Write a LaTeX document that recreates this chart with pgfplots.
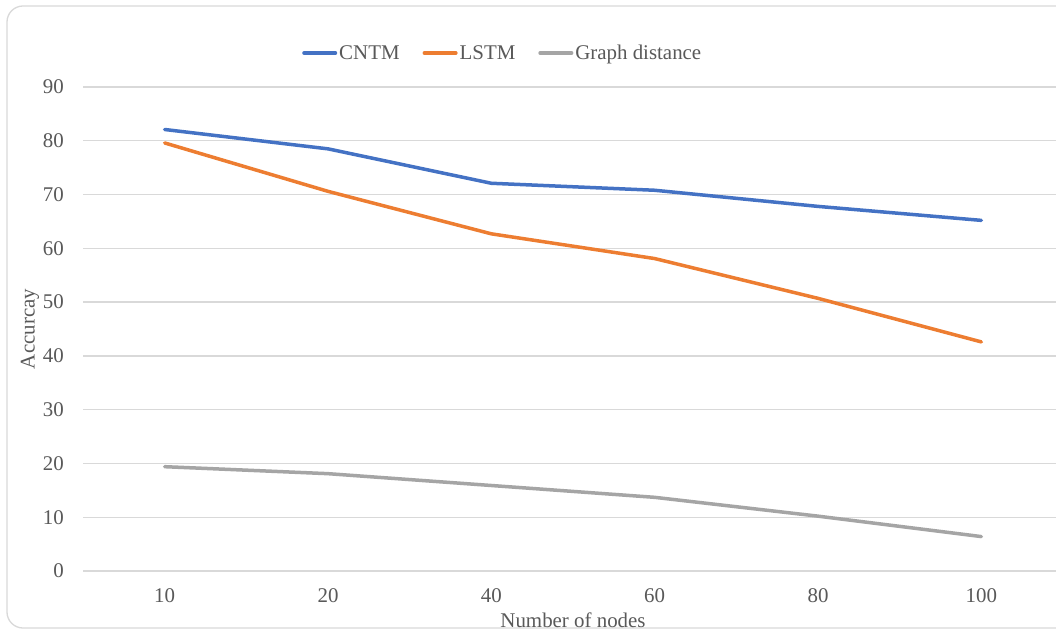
\documentclass[border=0pt]{standalone}
\usepackage{pgfplots}
\pgfplotsset{compat=1.18}
\usepackage{fontspec}
\setmainfont{Liberation Serif}
\definecolor{cntm}{HTML}{4472C4}
\definecolor{lstm}{HTML}{ED7D31}
\definecolor{gd}{HTML}{A5A5A5}
\definecolor{gridc}{HTML}{D9D9D9}
\definecolor{txt}{HTML}{595959}
\newcommand\f{\fontsize{20.9}{25}\selectfont}
\begin{document}
\begin{tikzpicture}[x=1pt,y=1pt]
\useasboundingbox (0,0) rectangle (1056,630);
\clip (0,0) rectangle (1056,630);
\fill[white] (0,0) rectangle (1056,630);
\draw[gridc, line width=1.3pt, rounded corners=16pt] (7,2) rectangle (1090,624);
\begin{axis}[
 at={(83pt,59pt)}, anchor=south west, scale only axis, width=980pt, height=484pt,
 xmin=-0.5, xmax=5.5, ymin=0, ymax=90, ytick={0,10,...,90}, xtick={0,...,5},
 xticklabels={10,20,40,60,80,100},
 axis line style={draw=none}, major tick length=0pt,
 ymajorgrids, major grid style={gridc, line width=1.3pt},
 tick label style={font=\f, text=txt, inner sep=0pt},
 yticklabel style={anchor=east, xshift=-19pt},
 xticklabel style={anchor=center, yshift=-25pt},
 /pgf/number format/assume math mode=true,
 label style={font=\f, text=txt},
 xlabel={Number of nodes}, ylabel={Accurcay},
 xlabel style={at={(axis description cs:0.5,-0.101)}, anchor=center},
 ylabel style={at={(axis description cs:-0.054,0.5)}, anchor=center},
 legend columns=3,
 legend style={at={(axis description cs:0.2235,1.0702)}, anchor=west, draw=none, fill=none,
   font=\f, text=txt, inner sep=0pt, nodes={inner sep=2pt},
   /tikz/every even column/.append style={column sep=21pt}},
 legend image code/.code={\draw[#1] (0pt,0pt) -- (31.5pt,0pt);},
]
\addplot[cntm, line width=3.5pt, line join=round, line cap=round] coordinates {(0,82.1) (1,78.5) (2,72.1) (3,70.8) (4,67.8) (5,65.2)};
\addlegendentry{CNTM}
\addplot[lstm, line width=3.5pt, line join=round, line cap=round] coordinates {(0,79.6) (1,70.6) (2,62.7) (3,58.1) (4,50.7) (5,42.6)};
\addlegendentry{LSTM}
\addplot[gd, line width=3.5pt, line join=round, line cap=round] coordinates {(0,19.4) (1,18.1) (2,15.9) (3,13.7) (4,10.2) (5,6.4)};
\addlegendentry{Graph distance}
\end{axis}
\end{tikzpicture}
\end{document}
